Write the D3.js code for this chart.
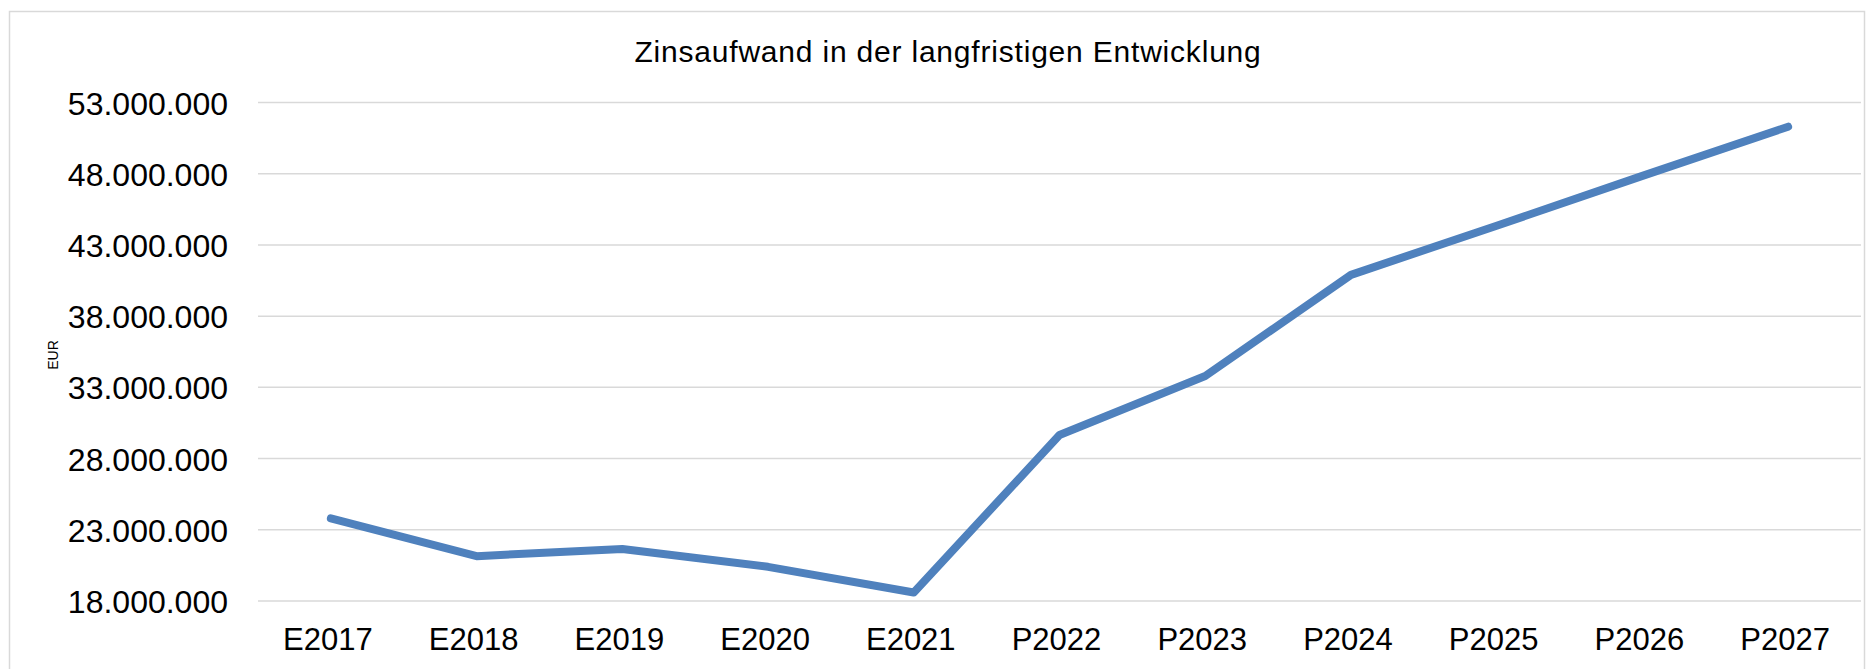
<!DOCTYPE html>
<html>
<head>
<meta charset="utf-8">
<script src="https://cdn.jsdelivr.net/npm/d3@7"></script>
<style>
  html, body { margin: 0; padding: 0; background: #fff; }
  text { font-family: "Liberation Sans", Arial, sans-serif; fill: #000; }
</style>
</head>
<body>
<svg id="chart"></svg>
<script>
// data
const years = ["E2017", "E2018", "E2019", "E2020", "E2021", "P2022", "P2023", "P2024", "P2025", "P2026", "P2027"];
const zinsaufwand = [23800000, 21150000, 21650000, 20400000, 18600000, 29650000, 33800000, 40900000, 44350000, 47850000, 51300000];
const yTicks = [18000000, 23000000, 28000000, 33000000, 38000000, 43000000, 48000000, 53000000];
const chartTitle = "Zinsaufwand in der langfristigen Entwicklung";
const yLabel = "EUR";

const W = 1867, H = 669;
const m = {t: 102.5, r: 6, b: 68, l: 258};

const svg = d3.select("#chart").attr("width", W).attr("height", H);

// outer chart frame
svg.append("rect")
  .attr("x", 9.5).attr("y", 11.5)
  .attr("width", 1855).attr("height", 700)
  .attr("fill", "none").attr("stroke", "#d9d9d9").attr("stroke-width", 1.5);

const de = d3.formatLocale({decimal: ",", thousands: ".", grouping: [3], currency: ["", " €"]});
const fmt = de.format(",.0f");

const x = d3.scaleBand().domain(years).range([m.l, W - m.r]);
const y = d3.scaleLinear().domain([18000000, 53000000]).range([H - m.b, m.t]);

// gridlines
svg.append("g").selectAll("line").data(yTicks).enter().append("line")
  .attr("x1", m.l).attr("x2", W - m.r)
  .attr("y1", d => y(d)).attr("y2", d => y(d))
  .attr("stroke", "#d9d9d9").attr("stroke-width", 1.5);

// y axis labels
const yAxis = d3.axisLeft(y).tickValues(yTicks).tickFormat(fmt).tickSize(0).tickPadding(30);
const gy = svg.append("g").attr("transform", "translate(" + m.l + ",0)").call(yAxis);
gy.select(".domain").remove();
gy.selectAll("text").style("font-size", "32px").attr("dy", "0.36em");

// x axis labels
const xAxis = d3.axisBottom(x).tickSize(0).tickPadding(27);
const gx = svg.append("g").attr("transform", "translate(-3," + (H - m.b) + ")").call(xAxis);
gx.select(".domain").remove();
gx.selectAll("text").style("font-size", "31px");

// the line
const line = d3.line()
  .x((d, i) => x(years[i]) + x.bandwidth() / 2)
  .y(d => y(d));

svg.append("path").datum(zinsaufwand)
  .attr("d", line)
  .attr("fill", "none")
  .attr("stroke", "#4f81bd")
  .attr("stroke-width", 8)
  .attr("stroke-linecap", "round")
  .attr("stroke-linejoin", "round");

// title
svg.append("text")
  .attr("x", 948).attr("y", 62)
  .attr("text-anchor", "middle")
  .style("font-size", "30px")
  .style("letter-spacing", "0.8px")
  .text(chartTitle);

// axis title
svg.append("text")
  .attr("transform", "translate(58,355) rotate(-90)")
  .attr("text-anchor", "middle")
  .style("font-size", "14px")
  .text(yLabel);
</script>
</body>
</html>
